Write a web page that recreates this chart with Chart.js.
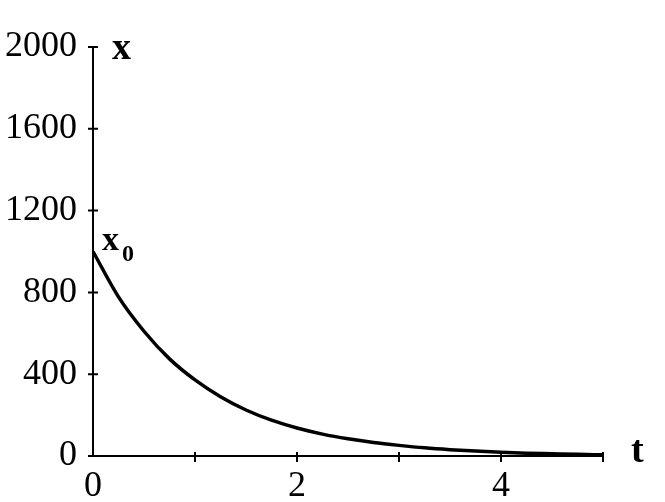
<!DOCTYPE html>
<html>
<head>
<meta charset="utf-8">
<style>
  html, body { margin: 0; padding: 0; background: #fff; }
  #wrap { width: 665px; height: 502px; }
</style>
<script src="https://cdn.jsdelivr.net/npm/chart.js@4"></script>
</head>
<body>
<div id="wrap"><canvas id="chart"></canvas></div>
<script>
const times = [0, 0.25, 0.5, 0.75, 1, 1.25, 1.5, 1.75, 2, 2.25, 2.5, 2.75, 3, 3.25, 3.5, 3.75, 4, 4.25, 4.5, 4.75, 5];
const amounts = [1000, 778, 610, 475, 372, 290, 225, 175, 137, 107, 84, 66, 52, 40, 31, 24, 18, 14, 11, 8, 6];
const xTickLabels = ["0", "2", "4"];
const yTickLabels = ["0", "400", "800", "1200", "1600", "2000"];

const serif = "'Liberation Serif', 'DejaVu Serif', serif";

// tick marks cross the axis line, like the hand-drawn original
const crossTicks = {
    id: "crossTicks",
    afterDraw(chart) {
        const ctx = chart.ctx;
        const x = chart.scales.x, y = chart.scales.y;
        const x0 = x.getPixelForValue(0), y0 = y.getPixelForValue(0);
        ctx.save();
        ctx.strokeStyle = "#000";
        ctx.lineWidth = 2;
        ctx.beginPath();
        y.ticks.forEach(t => {
            const py = y.getPixelForValue(t.value);
            ctx.moveTo(x0 - 5, py);
            ctx.lineTo(x0 + 5, py);
        });
        x.ticks.forEach(t => {
            if (t.value === 0) return;
            const px = x.getPixelForValue(t.value);
            ctx.moveTo(px, y0 - 4);
            ctx.lineTo(px, y0 + 6);
        });
        ctx.stroke();

        ctx.fillStyle = "#000";
        ctx.textBaseline = "alphabetic";
        ctx.font = "bold 38px " + serif;
        ctx.fillText("x", x0 + 19, y.getPixelForValue(2000) + 12);
        ctx.fillText("t", x.getPixelForValue(5) + 28, y0 + 6);
        ctx.font = "bold 34px " + serif;
        ctx.fillText("x", x0 + 9, y.getPixelForValue(1000) - 2);
        ctx.font = "bold 24px " + serif;
        ctx.fillText("0", x0 + 29, y.getPixelForValue(1000) + 9);
        ctx.restore();
    }
};

new Chart(document.querySelector("#chart"), {
    type: "line",
    data: {
        labels: times,
        datasets: [
            {
                data: times.map((t, i) => ({x: t, y: amounts[i]})),
                borderColor: "#000",
                borderWidth: 3.5,
                pointRadius: 0,
                cubicInterpolationMode: "monotone",
                fill: false
            }
        ]
    },
    options: {
        responsive: true,
        maintainAspectRatio: false,
        animation: false,
        layout: {padding: {top: 47, right: 62, left: 0, bottom: 0}},
        plugins: {legend: {display: false}, tooltip: {enabled: false}},
        scales: {
            x: {
                type: "linear",
                min: 0,
                max: 5,
                afterFit(scale) { scale.height = 46; },
                grid: {display: false},
                border: {display: true, color: "#000", width: 2},
                ticks: {
                    stepSize: 1,
                    color: "#000",
                    padding: 1,
                    maxRotation: 0,
                    font: {family: serif, size: 36},
                    callback: v => xTickLabels.includes(String(v)) ? String(v) : ""
                }
            },
            y: {
                min: 0,
                max: 2000,
                afterFit(scale) { scale.width = 93; },
                grid: {display: false},
                border: {display: true, color: "#000", width: 2},
                ticks: {
                    stepSize: 200,
                    color: "#000",
                    padding: 8,
                    font: {family: serif, size: 36},
                    callback: v => yTickLabels.includes(String(v)) ? String(v) : ""
                }
            }
        }
    },
    plugins: [crossTicks]
});
</script>
</body>
</html>
